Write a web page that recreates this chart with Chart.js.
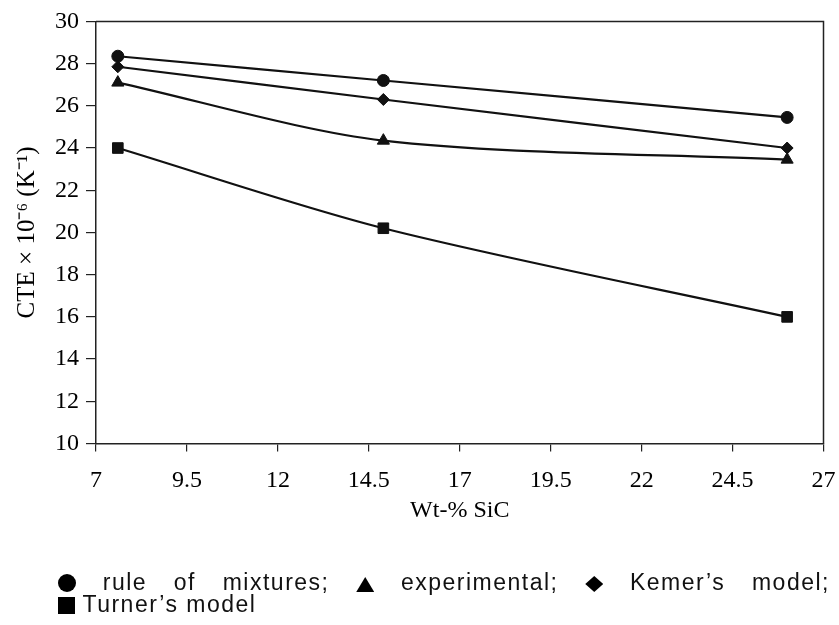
<!DOCTYPE html>
<html>
<head>
<meta charset="utf-8">
<script src="https://cdn.jsdelivr.net/npm/chart.js@4"></script>
<style>
  html, body { margin: 0; padding: 0; background: #fff; }
  #wrap { position: relative; width: 839px; height: 625px; }
  canvas { position: absolute; left: 0; top: 0; }
  .legend {
    position: absolute;
    left: 58px;
    font-family: "Liberation Sans", Arial, sans-serif;
    font-size: 23px;
    line-height: 22px;
    letter-spacing: 1.5px;
    color: #111;
    white-space: nowrap;
  }
  #line1 { top: 571px; width: 772px; text-align: justify; text-align-last: justify; white-space: normal; }
  #line2 { top: 593px; }
  .sym { display: inline-block; background: #000; vertical-align: -2px; }
  .circle { width: 18px; height: 18px; border-radius: 50%; }
  .tri { width: 18px; height: 15px; clip-path: polygon(50% 0, 100% 100%, 0 100%); }
  .dia { width: 18px; height: 16px; clip-path: polygon(50% 0, 100% 50%, 50% 100%, 0 50%); }
  .sq { width: 17px; height: 17px; }
</style>
</head>
<body>
<div id="wrap">
  <canvas id="cteChart" width="839" height="625"></canvas>
  <div class="legend" id="line1"><span class="sym circle"></span> rule of mixtures; <span class="sym tri"></span> experimental; <span class="sym dia"></span> Kemer’s model;</div>
  <div class="legend" id="line2"><span class="sym sq"></span> Turner’s model</div>
</div>
<script>
// wt-% SiC of the three composites
const wtSiC = [7.6, 14.9, 26.0];

// CTE x 10^-6 (1/K)
const ruleOfMixtures = [28.35, 27.2, 25.45];
const experimental = [27.1, 24.35, 23.45];
const kemerModel = [27.85, 26.3, 24.0];
const turnerModel = [24.0, 20.2, 16.0];

const xTicks = [7, 9.5, 12, 14.5, 17, 19.5, 22, 24.5, 27];
const yTicks = [10, 12, 14, 16, 18, 20, 22, 24, 26, 28, 30];

const serif = '"Liberation Serif", "Times New Roman", serif';

function points(values) {
  return values.map((v, i) => ({ x: wtSiC[i], y: v }));
}

function series(label, values, style, radius) {
  return {
    label: label,
    data: points(values),
    borderColor: '#111',
    backgroundColor: '#111',
    borderWidth: 2.2,
    pointStyle: style,
    pointRadius: radius,
    pointBorderWidth: 1,
    tension: 0.3,
    fill: false
  };
}

// top and right sides of the box
const frame = {
  id: 'frame',
  afterDraw(chart) {
    const { ctx, chartArea } = chart;
    ctx.save();
    ctx.strokeStyle = '#222';
    ctx.lineWidth = 1.5;
    ctx.beginPath();
    ctx.moveTo(chartArea.left, chartArea.top);
    ctx.lineTo(chartArea.right, chartArea.top);
    ctx.lineTo(chartArea.right, chartArea.bottom);
    ctx.stroke();
    ctx.restore();
  }
};

new Chart(document.getElementById('cteChart'), {
  type: 'line',
  data: {
    datasets: [
      series('rule of mixtures', ruleOfMixtures, 'circle', 6),
      series('Kemer’s model', kemerModel, 'rectRot', 6),
      series('experimental', experimental, 'triangle', 7),
      series('Turner’s model', turnerModel, 'rect', 7.5)
    ]
  },
  options: {
    responsive: false,
    animation: false,
    layout: { padding: { left: 0, right: 1, top: 20, bottom: 100 } },
    plugins: {
      legend: { display: false },
      tooltip: { enabled: false }
    },
    scales: {
      x: {
        type: 'linear',
        min: 7,
        max: 27,
        afterBuildTicks: (scale) => { scale.ticks = xTicks.map(v => ({ value: v })); },
        afterFit: (scale) => { scale.height = 81.5; scale.paddingRight = 15.5; },
        grid: { drawOnChartArea: false, tickLength: 8, color: '#222', lineWidth: 1.2 },
        border: { color: '#222', width: 1.5 },
        ticks: { color: '#000', padding: 15, maxRotation: 0, font: { family: serif, size: 24 } },
        title: {
          display: true,
          text: 'Wt-% SiC',
          color: '#000',
          padding: 0,
          font: { family: serif, size: 24 }
        }
      },
      y: {
        min: 10,
        max: 30,
        afterBuildTicks: (scale) => { scale.ticks = yTicks.map(v => ({ value: v })); },
        afterFit: (scale) => { scale.width = 96; },
        grid: { drawOnChartArea: false, tickLength: 10, color: '#222', lineWidth: 1.2 },
        border: { color: '#222', width: 1.5 },
        ticks: { color: '#000', padding: 7, font: { family: serif, size: 24 } },
        title: {
          display: true,
          text: 'CTE × 10⁻⁶ (K⁻¹)',
          color: '#000',
          padding: { top: 12, bottom: 0 },
          font: { family: serif, size: 25 }
        }
      }
    }
  },
  plugins: [frame]
});
</script>
</body>
</html>
